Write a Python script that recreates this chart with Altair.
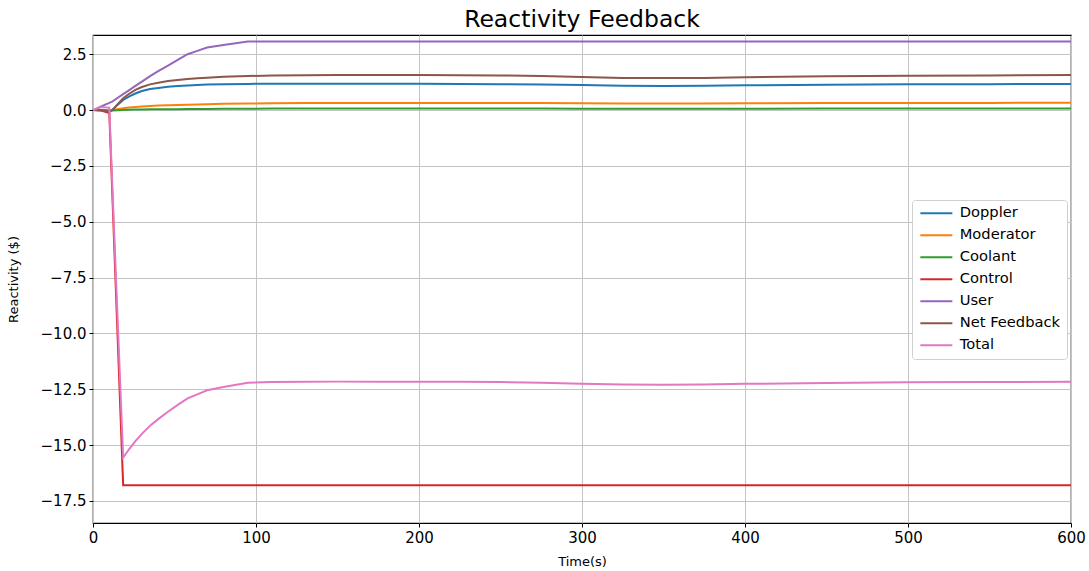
import altair as alt
import pandas as pd

# Simulation time (s)
time_s = [0, 5, 10, 12, 15, 18.5, 22, 26, 30, 35, 40, 46, 52, 58, 64, 70, 80, 95,
          110, 130, 150, 175, 200, 225, 250, 275, 300, 325, 350, 375, 400, 450, 500, 550, 600]

# Reactivity components ($)
doppler = [0, -0.01, -0.04, 0.02, 0.22, 0.45, 0.6, 0.74, 0.85, 0.94, 0.99, 1.04, 1.08, 1.1, 1.12, 1.14, 1.15, 1.17,
           1.18, 1.18, 1.18, 1.18, 1.18, 1.17, 1.16, 1.14, 1.12, 1.09, 1.08, 1.09, 1.11, 1.13, 1.15, 1.16, 1.17]
moderator = [0, 0, -0.02, 0, 0.04, 0.08, 0.11, 0.14, 0.16, 0.18, 0.2, 0.22, 0.23, 0.24, 0.25, 0.26, 0.28, 0.29,
             0.3, 0.31, 0.32, 0.32, 0.32, 0.32, 0.32, 0.31, 0.3, 0.29, 0.29, 0.29, 0.3, 0.31, 0.32, 0.32, 0.33]
coolant = [0, 0, -0.02, -0.02, -0.01, 0, 0.01, 0.02, 0.02, 0.03, 0.03, 0.04, 0.04, 0.05, 0.05, 0.05, 0.06, 0.06,
           0.07, 0.07, 0.07, 0.07, 0.07, 0.07, 0.07, 0.07, 0.06, 0.06, 0.06, 0.06, 0.06, 0.07, 0.07, 0.07, 0.07]
control = [0, -0.02, -0.13, -4.05, -9.95, -16.8, -16.8, -16.8, -16.8, -16.8, -16.8, -16.8, -16.8, -16.8, -16.8,
           -16.8, -16.8, -16.8, -16.8, -16.8, -16.8, -16.8, -16.8, -16.8, -16.8, -16.8, -16.8, -16.8, -16.8,
           -16.8, -16.8, -16.8, -16.8, -16.8, -16.8]
user = [0, 0.16, 0.32, 0.39, 0.54, 0.71, 0.88, 1.08, 1.27, 1.52, 1.74, 1.99, 2.25, 2.5, 2.65, 2.8, 2.91, 3.07,
        3.07, 3.07, 3.07, 3.07, 3.07, 3.07, 3.07, 3.07, 3.07, 3.07, 3.07, 3.07, 3.07, 3.07, 3.07, 3.07, 3.07]
net_feedback = [0, -0.01, -0.08, 0, 0.25, 0.53, 0.72, 0.9, 1.03, 1.15, 1.22, 1.3, 1.35, 1.39, 1.42, 1.45, 1.49, 1.52,
                1.55, 1.56, 1.57, 1.57, 1.57, 1.56, 1.55, 1.52, 1.48, 1.44, 1.43, 1.44, 1.47, 1.51, 1.54, 1.55, 1.57]
total = [0, 0.13, 0.11, -3.66, -9.16, -15.56, -15.2, -14.82, -14.5, -14.13, -13.84, -13.51, -13.2, -12.91,
         -12.73, -12.55, -12.4, -12.21, -12.18, -12.17, -12.16, -12.16, -12.16, -12.17, -12.18, -12.21, -12.25,
         -12.29, -12.3, -12.29, -12.26, -12.22, -12.19, -12.18, -12.16]

series_names = ["Doppler", "Moderator", "Coolant", "Control", "User", "Net Feedback", "Total"]
series_values = [doppler, moderator, coolant, control, user, net_feedback, total]
series_colors = ["#1f77b4", "#ff7f0e", "#2ca02c", "#d62728", "#9467bd", "#8c564b", "#e377c2"]

x_ticks = [0, 100, 200, 300, 400, 500, 600]
y_ticks = [-17.5, -15.0, -12.5, -10.0, -7.5, -5.0, -2.5, 0.0, 2.5]

rows = []
for name, vals in zip(series_names, series_values):
    for t, v in zip(time_s, vals):
        rows.append({"Time": t, "Reactivity": v, "Component": name})
df = pd.DataFrame(rows)

FONT = "DejaVu Sans"

# Legend swatch: a short horizontal stroke drawn from the entry's left edge
legend_swatch = "M-1,0H5.4"

chart = alt.Chart(df).mark_line(strokeWidth=2, clip=True).encode(
    x=alt.X("Time:Q",
            scale=alt.Scale(domain=[0, 600], nice=False, zero=False),
            axis=alt.Axis(title="Time(s)", values=x_ticks, format="d")),
    y=alt.Y("Reactivity:Q",
            scale=alt.Scale(domain=[-18.49, 3.36], nice=False, zero=False),
            axis=alt.Axis(title="Reactivity ($)", values=y_ticks, format=".1f")),
    color=alt.Color("Component:N",
                    scale=alt.Scale(domain=series_names, range=series_colors),
                    legend=alt.Legend(title=None, orient="none", legendX=819, legendY=165,
                                      symbolType=legend_swatch, symbolSize=100, symbolStrokeWidth=2,
                                      labelFontSize=14.7, labelFont=FONT, labelColor="black",
                                      labelOffset=27, padding=6, rowPadding=6,
                                      fillColor="white", strokeColor="#d0d0d0", cornerRadius=3)),
    detail="Component:N",
    order=alt.Order("Time:Q"),
).properties(
    width=978,
    height=488,
    title=alt.TitleParams("Reactivity Feedback", font=FONT, fontSize=23.5, fontWeight="normal",
                          color="black", anchor="middle", offset=4),
    autosize=alt.AutoSizeParams(type="none"),
    padding={"left": 93, "top": 35, "right": 18, "bottom": 48},
).configure_view(
    stroke="black", strokeWidth=1.2
).configure_axis(
    labelFont=FONT, labelFontSize=15, labelColor="black", labelFlush=False,
    titleFont=FONT, titleFontSize=13, titleFontWeight="normal", titleColor="black",
    grid=True, gridColor="#c4c4c4", gridWidth=1,
    domain=False, tickColor="black", tickSize=4, tickWidth=1, labelPadding=3,
).configure_axisX(
    titlePadding=10
).configure_axisY(
    titlePadding=20
)

chart.save("out.html", embed_options={"renderer": "svg", "actions": False})
